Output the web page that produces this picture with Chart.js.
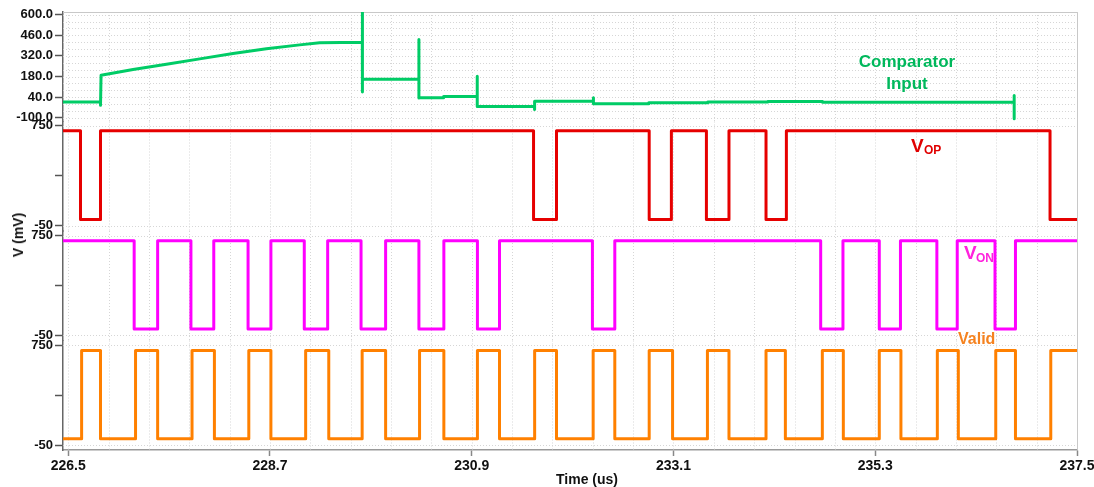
<!DOCTYPE html>
<html>
<head>
<meta charset="utf-8">
<script src="https://cdn.jsdelivr.net/npm/chart.js@4/dist/chart.umd.min.js"></script>
<style>
html,body{margin:0;padding:0;background:#fff;}
#wrap{position:relative;width:1094px;height:487px;overflow:hidden;}
#c{position:absolute;left:0;top:0;}
.lbl{position:absolute;font-family:"Liberation Sans",Arial,sans-serif;font-weight:bold;white-space:nowrap;line-height:1;}
</style>
</head>
<body>
<div id="wrap">
<canvas id="c" width="1094" height="487"></canvas>
<div class="lbl" style="left:907px;top:52.8px;font-size:17px;color:#00b85c;transform:translateX(-50%);">Comparator</div>
<div class="lbl" style="left:907px;top:74.8px;font-size:17px;color:#00b85c;transform:translateX(-50%);">Input</div>
<div class="lbl" style="left:911px;top:135.5px;font-size:19px;color:#e00000;">V</div>
<div class="lbl" style="left:924px;top:144.1px;font-size:12px;color:#e00000;">OP</div>
<div class="lbl" style="left:964px;top:243.3px;font-size:19px;color:#ff22dd;">V</div>
<div class="lbl" style="left:976px;top:252.4px;font-size:12px;color:#ff22dd;">ON</div>
<div class="lbl" style="left:958px;top:331.4px;font-size:16px;color:#f5821f;">Valid</div>
<div class="lbl" style="left:18px;top:235px;font-size:14px;color:#111;transform:translate(-50%,-50%) rotate(-90deg);">V (mV)</div>
<div class="lbl" style="left:587px;top:471.5px;font-size:14px;color:#111;transform:translateX(-50%);">Time (us)</div>
</div>
<script>
// ---- axis settings ----
const xTicks = [226.5, 228.7, 230.9, 233.1, 235.3, 237.5];
const tStart = 226.443;
const tEnd = 237.5;
const compTicks = [-100, 40, 180, 320, 460, 600];
const logicTicks = [-50, 350, 750];

// ---- Comparator Input (mV) ----
const compTime = [226.443, 226.852, 226.852, 226.858, 227.207, 227.571, 227.934, 228.297, 228.661, 229.024, 229.242, 229.707,
  229.707, 229.707, 229.710, 230.324, 230.324, 230.324, 230.327, 230.593, 230.593, 230.960, 230.960, 230.960,
  231.584, 231.584, 231.587, 232.227, 232.227, 232.227, 232.830, 232.830, 233.473, 233.473, 234.127, 234.127,
  234.726, 234.726, 236.815, 236.815, 236.815];
const compValue = [8, 8, -15, 189, 228, 264, 300, 337, 368, 395, 409, 412,
  640, 75, 161, 161, 432, 34, 37, 37, 45, 45, 182, -23,
  -23, -44, 13, 13, 37, -4, -4, 3, 3, 8, 8, 10,
  10, 5, 5, 52, -107];

// ---- V_OP (mV), level after each time ----
const vopTime = [226.443, 226.634, 226.852, 231.574, 231.824, 232.835, 233.077, 233.459, 233.705, 234.109, 234.331, 237.206, 237.5];
const vopValue = [708, 0, 708, 0, 708, 0, 708, 0, 708, 0, 708, 0, 0];

// ---- V_ON (mV) ----
const vonTime = [226.443, 227.219, 227.475, 227.838, 228.087, 228.461, 228.710, 229.074, 229.329, 229.693, 229.961,
  230.324, 230.596, 230.962, 231.203, 232.216, 232.460, 234.705, 234.948, 235.344, 235.575, 235.972, 236.194,
  236.606, 236.829, 237.5];
const vonValue = [710, 0, 710, 0, 710, 0, 710, 0, 710, 0, 710,
  0, 710, 0, 710, 0, 710, 0, 710, 0, 710, 0, 710,
  0, 710, 710];

// ---- Valid (mV) ----
const validTime = [226.443, 226.646, 226.852, 227.234, 227.475, 227.850, 228.094, 228.469, 228.710, 229.089, 229.341,
  229.705, 229.961, 230.331, 230.596, 230.962, 231.203, 231.586, 231.824, 232.224, 232.460, 232.835, 233.090,
  233.470, 233.705, 234.109, 234.320, 234.723, 234.952, 235.344, 235.580, 235.977, 236.206, 236.614, 236.829,
  237.214, 237.5];
const validValue = [0, 708, 0, 708, 0, 708, 0, 708, 0, 708, 0,
  708, 0, 708, 0, 708, 0, 708, 0, 708, 0, 708, 0,
  708, 0, 708, 0, 708, 0, 708, 0, 708, 0, 708, 0,
  708, 708];

const pts = (ts, vs) => ts.map((t, i) => ({x: t, y: vs[i]}));

const FONT = '"Liberation Sans", Arial, sans-serif';

function yAxis(min, max, ticks, fmt) {
  return {
    type: 'linear', position: 'left', stack: 'v', stackWeight: 1, min: min, max: max,
    afterBuildTicks: s => { s.ticks = ticks.map(v => ({value: v})); },
    afterFit: s => { s.width = 55; s.paddingTop = 0; s.paddingBottom = 0; },
    ticks: { callback: fmt, font: {family: FONT, size: 13, weight: 'bold'}, color: '#111', padding: 2, autoSkip: false },
    grid: { drawOnChartArea: false, drawTicks: true, tickLength: 8, tickColor: '#555', tickWidth: 1.5 },
    border: { display: true, color: '#666', width: 1.5 }
  };
}

const dotGrid = {
  id: 'dotGrid',
  beforeDatasetsDraw(chart) {
    const ctx = chart.ctx, xs = chart.scales.x, ca = chart.chartArea;
    ctx.save();
    ctx.lineWidth = 1;
    const panels = [
      {id: 'yComp', h: []},
      {id: 'yVop', h: [-50, 750]},
      {id: 'yVon', h: [-50, 750]},
      {id: 'yValid', h: [-50, 750]}
    ];
    for (let k = 0; k <= 15; k++) panels[0].h.push(-100 + k * 140 / 3);
    ctx.strokeStyle = '#d6d6d6';
    ctx.setLineDash([1, 2]);
    panels.forEach(p => {
      const ys = chart.scales[p.id];
      for (let t = xTicks[0]; t <= tEnd + 1e-6; t += 0.44) {
        const px = Math.round(xs.getPixelForValue(t)) + 0.5;
        ctx.beginPath(); ctx.moveTo(px, ys.top); ctx.lineTo(px, ys.bottom); ctx.stroke();
      }
      p.h.forEach(v => {
        const py = Math.round(ys.getPixelForValue(v)) + 0.5;
        ctx.beginPath(); ctx.moveTo(ca.left, py); ctx.lineTo(ca.right, py); ctx.stroke();
      });
    });
    ctx.setLineDash([]);
    ctx.strokeStyle = '#c8c8c8';
    ctx.beginPath();
    ctx.moveTo(ca.left, ca.top + 0.5); ctx.lineTo(ca.right + 0.5, ca.top + 0.5);
    ctx.lineTo(ca.right + 0.5, ca.bottom);
    ctx.stroke();
    ctx.restore();
  }
};

const line = (data, color, yid, stepped) => ({
  data: data, borderColor: color, backgroundColor: color, borderWidth: 3, pointRadius: 0,
  tension: 0, stepped: stepped, yAxisID: yid, fill: false, borderJoinStyle: 'round', borderCapStyle: 'butt'
});

new Chart(document.getElementById('c'), {
  type: 'line',
  data: {
    datasets: [
      line(pts(compTime, compValue), '#00cc66', 'yComp', false),
      line(pts(vopTime, vopValue), '#e60000', 'yVop', true),
      line(pts(vonTime, vonValue), '#ff00ff', 'yVon', true),
      line(pts(validTime, validValue), '#ff8000', 'yValid', true)
    ]
  },
  options: {
    responsive: false,
    animation: false,
    devicePixelRatio: 1,
    parsing: true,
    layout: { padding: { left: 8, right: 17, top: 12, bottom: 0 } },
    plugins: { legend: { display: false }, tooltip: { enabled: false } },
    scales: {
      x: {
        type: 'linear', position: 'bottom', min: tStart, max: tEnd,
        afterBuildTicks: s => { s.ticks = xTicks.map(v => ({value: v})); },
        afterFit: s => { s.height = 37; s.paddingLeft = 0; s.paddingRight = 0; },
        ticks: { callback: v => Number(v).toFixed(1), font: {family: FONT, size: 14, weight: 'bold'}, color: '#111', padding: 2, maxRotation: 0, autoSkip: false },
        grid: { drawOnChartArea: false, drawTicks: true, tickLength: 6, tickColor: '#888', tickWidth: 1.5 },
        border: { display: true, color: '#999', width: 1.5 }
      },
      yValid: yAxis(-90, 788, logicTicks, v => v === 350 ? '' : String(v)),
      yVon: yAxis(-92, 788, logicTicks, v => v === 350 ? '' : String(v)),
      yVop: yAxis(-92, 782, logicTicks, v => v === 350 ? '' : String(v)),
      yComp: yAxis(-125, 618, compTicks, v => Number(v).toFixed(1))
    }
  },
  plugins: [dotGrid]
});
</script>
</body>
</html>
